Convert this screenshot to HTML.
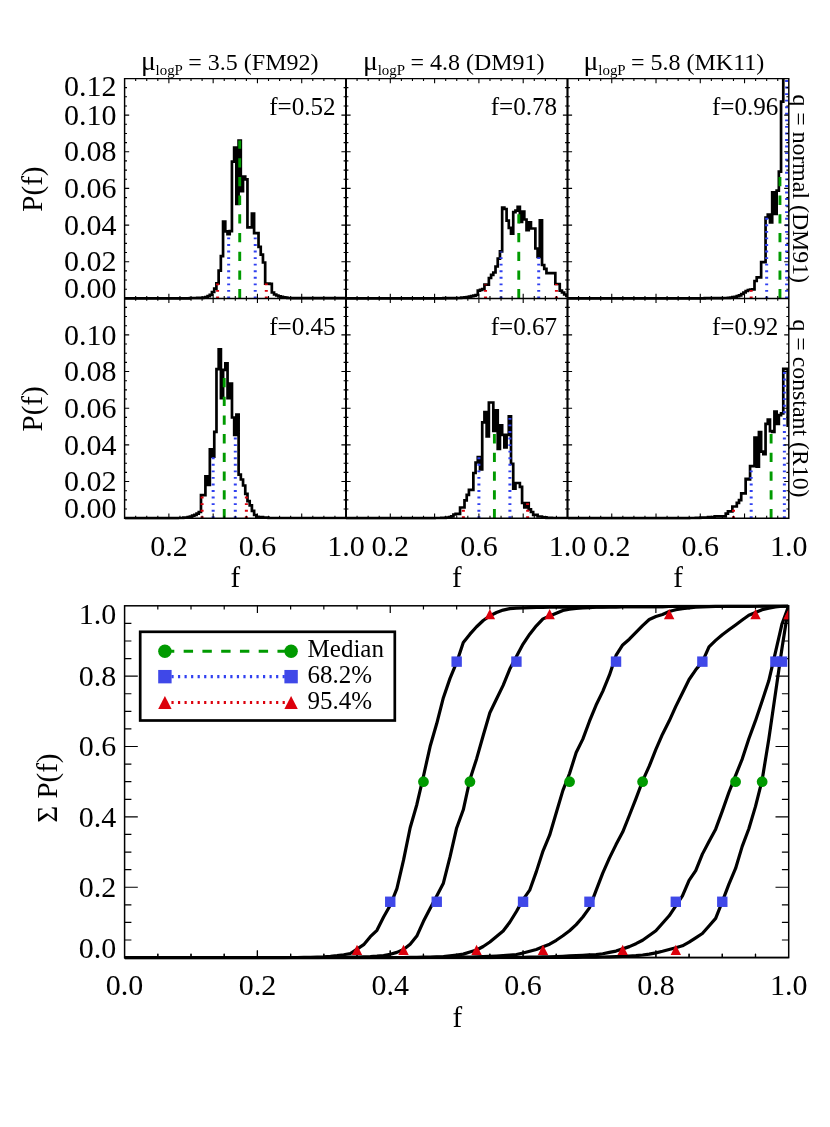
<!DOCTYPE html><html><head><meta charset="utf-8"><title>fig</title><style>
html,body{margin:0;padding:0;background:#fff}svg{display:block}text{font-family:"Liberation Serif",serif;fill:#000}svg{will-change:transform}
</style></head><body>
<svg width="830" height="1127" viewBox="0 0 830 1127">
<rect width="830" height="1127" fill="#fff"/>
<defs>
<clipPath id="cp00"><rect x="124.60" y="78.60" width="221.40" height="221.40"/></clipPath>
<clipPath id="cp01"><rect x="346.00" y="78.60" width="221.50" height="221.40"/></clipPath>
<clipPath id="cp02"><rect x="567.50" y="78.60" width="221.30" height="221.40"/></clipPath>
<clipPath id="cp10"><rect x="124.60" y="298.40" width="221.40" height="221.40"/></clipPath>
<clipPath id="cp11"><rect x="346.00" y="298.40" width="221.50" height="221.40"/></clipPath>
<clipPath id="cp12"><rect x="567.50" y="298.40" width="221.30" height="221.40"/></clipPath>
</defs>
<g clip-path="url(#cp00)">
<path d="M124.60,298.40H190.00V298.00H197.23V297.80H203.13V297.50H205.30V297.00H207.59V296.20H209.76V294.80H211.93V292.00H214.22V288.70H216.39V283.30H218.63V270.70H220.84V256.20H223.06V221.50H225.28V231.30H227.49V234.20H229.71V231.10H231.93V161.60H234.14V147.70H236.36V203.90H238.58V140.50H240.80V191.20H243.01V176.60H245.23V179.40H247.45V227.30H249.66V227.30H251.88V213.70H254.10V233.20H256.31V233.20H258.53V246.80H260.75V254.60H262.96V262.50H265.18V283.60H267.40V283.60H269.61V283.90H271.83V292.50H274.05V294.50H276.27V295.50H278.43V296.30H280.60V296.80H282.89V297.30H285.18V297.70H287.35V298.00H292.41V298.20H346.00" fill="none" stroke="#000" stroke-width="2.7" stroke-linejoin="miter"/>
<line x1="217.59" y1="298.40" x2="217.59" y2="283.30" stroke="#dc000c" stroke-width="3" stroke-dasharray="1.9 4.66"/>
<line x1="266.30" y1="298.40" x2="266.30" y2="283.60" stroke="#dc000c" stroke-width="3" stroke-dasharray="1.9 4.66"/>
<line x1="228.66" y1="298.40" x2="228.66" y2="234.20" stroke="#3040f0" stroke-width="3" stroke-dasharray="1.9 4.66"/>
<line x1="255.23" y1="298.40" x2="255.23" y2="233.20" stroke="#3040f0" stroke-width="3" stroke-dasharray="1.9 4.66"/>
<line x1="239.73" y1="298.40" x2="239.73" y2="140.50" stroke="#009a00" stroke-width="2.9" stroke-dasharray="9.3 9.4"/>
</g>
<g clip-path="url(#cp01)">
<path d="M346.00,298.40H443.46V298.20H452.32V298.10H456.75V298.00H461.18V297.70H464.50V297.30H466.72V297.00H468.93V296.60H471.15V296.20H473.36V295.70H475.58V295.00H477.79V290.60H480.01V289.80H482.22V289.00H484.44V284.60H486.65V284.60H488.87V278.00H491.08V274.90H493.30V272.50H495.51V266.50H497.73V258.70H499.94V251.40H502.16V207.50H504.37V209.00H506.59V220.70H508.80V227.90H511.02V233.70H513.23V212.20H515.45V210.60H517.66V206.80H519.88V221.80H522.09V211.50H524.31V219.50H526.52V230.10H528.74V222.30H530.95V228.50H533.17V228.50H535.38V248.50H537.60V257.00H539.81V220.30H542.03V265.00H544.24V268.90H546.46V273.10H548.67V273.10H550.89V273.10H553.10V273.10H555.32V284.00H557.53V284.00H559.75V290.60H561.96V292.50H564.18V294.50H566.39V296.00H567.50" fill="none" stroke="#000" stroke-width="2.7" stroke-linejoin="miter"/>
<line x1="485.54" y1="298.40" x2="485.54" y2="284.60" stroke="#dc000c" stroke-width="3" stroke-dasharray="1.9 4.66"/>
<line x1="556.42" y1="298.40" x2="556.42" y2="284.00" stroke="#dc000c" stroke-width="3" stroke-dasharray="1.9 4.66"/>
<line x1="501.05" y1="298.40" x2="501.05" y2="251.40" stroke="#3040f0" stroke-width="3" stroke-dasharray="1.9 4.66"/>
<line x1="538.71" y1="298.40" x2="538.71" y2="257.00" stroke="#3040f0" stroke-width="3" stroke-dasharray="1.9 4.66"/>
<line x1="518.77" y1="298.40" x2="518.77" y2="206.80" stroke="#009a00" stroke-width="2.9" stroke-dasharray="9.3 9.4"/>
</g>
<g clip-path="url(#cp02)">
<path d="M567.50,298.40H704.71V298.20H717.98V298.10H722.41V298.00H727.94V297.80H730.16V297.50H732.37V297.20H734.58V296.80H736.79V296.20H739.01V295.30H741.22V294.00H743.43V292.50H745.65V291.00H747.86V290.00H750.07V289.50H752.29V289.30H754.50V281.00H756.71V277.40H758.92V277.40H761.14V262.20H763.35V262.20H765.56V217.50H767.78V214.60H769.99V222.50H772.20V192.40H774.42V213.80H776.63V190.60H778.84V171.60H781.05V101.60H783.27V40.00H788.80" fill="none" stroke="#000" stroke-width="2.7" stroke-linejoin="miter"/>
<line x1="751.18" y1="298.40" x2="751.18" y2="289.50" stroke="#dc000c" stroke-width="3" stroke-dasharray="1.9 4.66"/>
<line x1="766.67" y1="298.40" x2="766.67" y2="217.50" stroke="#3040f0" stroke-width="3" stroke-dasharray="1.9 4.66"/>
<line x1="786.59" y1="298.40" x2="786.59" y2="78.60" stroke="#3040f0" stroke-width="3" stroke-dasharray="1.9 4.66"/>
<line x1="779.95" y1="298.40" x2="779.95" y2="171.60" stroke="#009a00" stroke-width="2.9" stroke-dasharray="9.3 9.4"/>
</g>
<g clip-path="url(#cp10)">
<path d="M124.60,518.20H177.74V518.00H183.27V517.60H187.70V517.20H189.91V516.60H192.13V515.60H194.34V514.80H196.56V513.60H198.77V512.00H200.98V495.10H203.20V495.10H205.41V476.40H207.62V485.00H209.84V449.30H212.05V456.70H214.27V431.90H216.48V369.20H218.69V349.30H220.91V398.20H223.12V369.80H225.34V363.40H227.55V398.20H229.76V383.60H231.98V417.50H234.19V435.00H236.41V414.60H238.62V474.60H240.84V479.50H243.05V485.50H245.26V493.90H247.48V501.10H249.69V505.40H251.90V510.80H254.12V515.00H256.33V516.80H258.55V517.20H262.98V517.60H268.51V518.00H346.00" fill="none" stroke="#000" stroke-width="2.7" stroke-linejoin="miter"/>
<line x1="202.09" y1="518.20" x2="202.09" y2="495.10" stroke="#dc000c" stroke-width="3" stroke-dasharray="1.9 4.66"/>
<line x1="246.37" y1="518.20" x2="246.37" y2="493.90" stroke="#dc000c" stroke-width="3" stroke-dasharray="1.9 4.66"/>
<line x1="213.16" y1="518.20" x2="213.16" y2="456.70" stroke="#3040f0" stroke-width="3" stroke-dasharray="1.9 4.66"/>
<line x1="235.30" y1="518.20" x2="235.30" y2="435.00" stroke="#3040f0" stroke-width="3" stroke-dasharray="1.9 4.66"/>
<line x1="224.23" y1="518.20" x2="224.23" y2="369.80" stroke="#009a00" stroke-width="2.9" stroke-dasharray="9.3 9.4"/>
</g>
<g clip-path="url(#cp11)">
<path d="M346.00,518.20H434.60V518.00H441.25V517.80H445.68V517.60H449.00V517.10H451.21V516.40H453.43V514.50H455.64V513.90H457.86V513.90H460.07V507.50H462.29V507.50H464.50V500.30H466.72V494.90H468.93V489.80H471.15V489.80H473.36V473.00H475.58V462.50H477.79V457.00H480.01V469.50H482.22V422.30H484.44V412.10H486.65V436.30H488.87V402.50H491.08V402.50H493.30V430.90H495.51V410.30H497.73V449.00H499.94V425.40H502.16V434.80H504.37V447.50H506.59V434.80H508.80V416.30H511.02V463.90H513.23V488.70H515.45V483.00H517.66V483.00H519.88V486.80H522.09V503.00H524.31V507.40H526.52V503.00H528.74V509.30H530.95V512.00H533.17V514.80H535.38V514.80H537.60V516.50H539.81V516.50H542.03V517.30H546.46V517.80H552.00V518.00H567.50" fill="none" stroke="#000" stroke-width="2.7" stroke-linejoin="miter"/>
<line x1="463.39" y1="518.20" x2="463.39" y2="507.50" stroke="#dc000c" stroke-width="3" stroke-dasharray="1.9 4.66"/>
<line x1="527.63" y1="518.20" x2="527.63" y2="503.00" stroke="#dc000c" stroke-width="3" stroke-dasharray="1.9 4.66"/>
<line x1="478.90" y1="518.20" x2="478.90" y2="457.00" stroke="#3040f0" stroke-width="3" stroke-dasharray="1.9 4.66"/>
<line x1="509.91" y1="518.20" x2="509.91" y2="416.30" stroke="#3040f0" stroke-width="3" stroke-dasharray="1.9 4.66"/>
<line x1="494.40" y1="518.20" x2="494.40" y2="430.90" stroke="#009a00" stroke-width="2.9" stroke-dasharray="9.3 9.4"/>
</g>
<g clip-path="url(#cp12)">
<path d="M567.50,518.20H689.22V518.00H695.85V517.80H700.28V517.70H708.03V517.10H714.66V516.40H725.73V513.70H727.94V511.30H730.16V511.30H732.37V506.50H734.58V506.50H736.79V502.90H739.01V500.20H741.22V493.30H743.43V493.30H745.65V478.80H747.86V479.50H750.07V466.20H752.29V466.20H754.50V437.50H756.71V466.70H758.92V432.10H761.14V451.60H763.35V454.20H765.56V423.90H767.78V419.60H769.99V431.20H772.20V432.00H774.42V411.50H776.63V423.80H778.84V415.20H781.05V413.30H783.27V368.80H787.69V424.60H788.80" fill="none" stroke="#000" stroke-width="2.7" stroke-linejoin="miter"/>
<line x1="733.48" y1="518.20" x2="733.48" y2="506.50" stroke="#dc000c" stroke-width="3" stroke-dasharray="1.9 4.66"/>
<line x1="751.18" y1="518.20" x2="751.18" y2="466.20" stroke="#3040f0" stroke-width="3" stroke-dasharray="1.9 4.66"/>
<line x1="784.37" y1="518.20" x2="784.37" y2="368.80" stroke="#3040f0" stroke-width="3" stroke-dasharray="1.9 4.66"/>
<line x1="771.10" y1="518.20" x2="771.10" y2="431.20" stroke="#009a00" stroke-width="2.9" stroke-dasharray="9.3 9.4"/>
</g>
<path d="M135.67,78.60v2.4M135.67,298.40v-2.4M146.74,78.60v2.4M146.74,298.40v-2.4M157.81,78.60v2.4M157.81,298.40v-2.4M168.88,78.60v4.6M168.88,298.40v-4.6M179.95,78.60v2.4M179.95,298.40v-2.4M191.02,78.60v2.4M191.02,298.40v-2.4M202.09,78.60v2.4M202.09,298.40v-2.4M213.16,78.60v4.6M213.16,298.40v-4.6M224.23,78.60v2.4M224.23,298.40v-2.4M235.30,78.60v2.4M235.30,298.40v-2.4M246.37,78.60v2.4M246.37,298.40v-2.4M257.44,78.60v4.6M257.44,298.40v-4.6M268.51,78.60v2.4M268.51,298.40v-2.4M279.58,78.60v2.4M279.58,298.40v-2.4M290.65,78.60v2.4M290.65,298.40v-2.4M301.72,78.60v4.6M301.72,298.40v-4.6M312.79,78.60v2.4M312.79,298.40v-2.4M323.86,78.60v2.4M323.86,298.40v-2.4M334.93,78.60v2.4M334.93,298.40v-2.4M357.07,78.60v2.4M357.07,298.40v-2.4M368.15,78.60v2.4M368.15,298.40v-2.4M379.23,78.60v2.4M379.23,298.40v-2.4M390.30,78.60v4.6M390.30,298.40v-4.6M401.38,78.60v2.4M401.38,298.40v-2.4M412.45,78.60v2.4M412.45,298.40v-2.4M423.52,78.60v2.4M423.52,298.40v-2.4M434.60,78.60v4.6M434.60,298.40v-4.6M445.68,78.60v2.4M445.68,298.40v-2.4M456.75,78.60v2.4M456.75,298.40v-2.4M467.82,78.60v2.4M467.82,298.40v-2.4M478.90,78.60v4.6M478.90,298.40v-4.6M489.98,78.60v2.4M489.98,298.40v-2.4M501.05,78.60v2.4M501.05,298.40v-2.4M512.12,78.60v2.4M512.12,298.40v-2.4M523.20,78.60v4.6M523.20,298.40v-4.6M534.27,78.60v2.4M534.27,298.40v-2.4M545.35,78.60v2.4M545.35,298.40v-2.4M556.42,78.60v2.4M556.42,298.40v-2.4M578.57,78.60v2.4M578.57,298.40v-2.4M589.63,78.60v2.4M589.63,298.40v-2.4M600.70,78.60v2.4M600.70,298.40v-2.4M611.76,78.60v4.6M611.76,298.40v-4.6M622.83,78.60v2.4M622.83,298.40v-2.4M633.89,78.60v2.4M633.89,298.40v-2.4M644.96,78.60v2.4M644.96,298.40v-2.4M656.02,78.60v4.6M656.02,298.40v-4.6M667.09,78.60v2.4M667.09,298.40v-2.4M678.15,78.60v2.4M678.15,298.40v-2.4M689.22,78.60v2.4M689.22,298.40v-2.4M700.28,78.60v4.6M700.28,298.40v-4.6M711.35,78.60v2.4M711.35,298.40v-2.4M722.41,78.60v2.4M722.41,298.40v-2.4M733.48,78.60v2.4M733.48,298.40v-2.4M744.54,78.60v4.6M744.54,298.40v-4.6M755.61,78.60v2.4M755.61,298.40v-2.4M766.67,78.60v2.4M766.67,298.40v-2.4M777.74,78.60v2.4M777.74,298.40v-2.4M124.60,289.23h2.4M124.60,280.07h2.4M124.60,270.90h2.4M124.60,261.74h4.6M124.60,252.57h2.4M124.60,243.41h2.4M124.60,234.24h2.4M124.60,225.08h4.6M124.60,215.91h2.4M124.60,206.75h2.4M124.60,197.58h2.4M124.60,188.42h4.6M124.60,179.25h2.4M124.60,170.09h2.4M124.60,160.92h2.4M124.60,151.76h4.6M124.60,142.59h2.4M124.60,133.43h2.4M124.60,124.26h2.4M124.60,115.10h4.6M124.60,105.93h2.4M124.60,96.77h2.4M124.60,87.60h2.4M346.00,289.23h2.4M346.00,289.23h-2.4M346.00,280.07h2.4M346.00,280.07h-2.4M346.00,270.90h2.4M346.00,270.90h-2.4M346.00,261.74h4.6M346.00,261.74h-4.6M346.00,252.57h2.4M346.00,252.57h-2.4M346.00,243.41h2.4M346.00,243.41h-2.4M346.00,234.24h2.4M346.00,234.24h-2.4M346.00,225.08h4.6M346.00,225.08h-4.6M346.00,215.91h2.4M346.00,215.91h-2.4M346.00,206.75h2.4M346.00,206.75h-2.4M346.00,197.58h2.4M346.00,197.58h-2.4M346.00,188.42h4.6M346.00,188.42h-4.6M346.00,179.25h2.4M346.00,179.25h-2.4M346.00,170.09h2.4M346.00,170.09h-2.4M346.00,160.92h2.4M346.00,160.92h-2.4M346.00,151.76h4.6M346.00,151.76h-4.6M346.00,142.59h2.4M346.00,142.59h-2.4M346.00,133.43h2.4M346.00,133.43h-2.4M346.00,124.26h2.4M346.00,124.26h-2.4M346.00,115.10h4.6M346.00,115.10h-4.6M346.00,105.93h2.4M346.00,105.93h-2.4M346.00,96.77h2.4M346.00,96.77h-2.4M346.00,87.60h2.4M346.00,87.60h-2.4M567.50,289.23h2.4M567.50,289.23h-2.4M567.50,280.07h2.4M567.50,280.07h-2.4M567.50,270.90h2.4M567.50,270.90h-2.4M567.50,261.74h4.6M567.50,261.74h-4.6M567.50,252.57h2.4M567.50,252.57h-2.4M567.50,243.41h2.4M567.50,243.41h-2.4M567.50,234.24h2.4M567.50,234.24h-2.4M567.50,225.08h4.6M567.50,225.08h-4.6M567.50,215.91h2.4M567.50,215.91h-2.4M567.50,206.75h2.4M567.50,206.75h-2.4M567.50,197.58h2.4M567.50,197.58h-2.4M567.50,188.42h4.6M567.50,188.42h-4.6M567.50,179.25h2.4M567.50,179.25h-2.4M567.50,170.09h2.4M567.50,170.09h-2.4M567.50,160.92h2.4M567.50,160.92h-2.4M567.50,151.76h4.6M567.50,151.76h-4.6M567.50,142.59h2.4M567.50,142.59h-2.4M567.50,133.43h2.4M567.50,133.43h-2.4M567.50,124.26h2.4M567.50,124.26h-2.4M567.50,115.10h4.6M567.50,115.10h-4.6M567.50,105.93h2.4M567.50,105.93h-2.4M567.50,96.77h2.4M567.50,96.77h-2.4M567.50,87.60h2.4M567.50,87.60h-2.4M788.80,289.23h-2.4M788.80,280.07h-2.4M788.80,270.90h-2.4M788.80,261.74h-4.6M788.80,252.57h-2.4M788.80,243.41h-2.4M788.80,234.24h-2.4M788.80,225.08h-4.6M788.80,215.91h-2.4M788.80,206.75h-2.4M788.80,197.58h-2.4M788.80,188.42h-4.6M788.80,179.25h-2.4M788.80,170.09h-2.4M788.80,160.92h-2.4M788.80,151.76h-4.6M788.80,142.59h-2.4M788.80,133.43h-2.4M788.80,124.26h-2.4M788.80,115.10h-4.6M788.80,105.93h-2.4M788.80,96.77h-2.4M788.80,87.60h-2.4M135.67,298.40v2.4M135.67,518.20v-2.4M146.74,298.40v2.4M146.74,518.20v-2.4M157.81,298.40v2.4M157.81,518.20v-2.4M168.88,298.40v4.6M168.88,518.20v-4.6M179.95,298.40v2.4M179.95,518.20v-2.4M191.02,298.40v2.4M191.02,518.20v-2.4M202.09,298.40v2.4M202.09,518.20v-2.4M213.16,298.40v4.6M213.16,518.20v-4.6M224.23,298.40v2.4M224.23,518.20v-2.4M235.30,298.40v2.4M235.30,518.20v-2.4M246.37,298.40v2.4M246.37,518.20v-2.4M257.44,298.40v4.6M257.44,518.20v-4.6M268.51,298.40v2.4M268.51,518.20v-2.4M279.58,298.40v2.4M279.58,518.20v-2.4M290.65,298.40v2.4M290.65,518.20v-2.4M301.72,298.40v4.6M301.72,518.20v-4.6M312.79,298.40v2.4M312.79,518.20v-2.4M323.86,298.40v2.4M323.86,518.20v-2.4M334.93,298.40v2.4M334.93,518.20v-2.4M357.07,298.40v2.4M357.07,518.20v-2.4M368.15,298.40v2.4M368.15,518.20v-2.4M379.23,298.40v2.4M379.23,518.20v-2.4M390.30,298.40v4.6M390.30,518.20v-4.6M401.38,298.40v2.4M401.38,518.20v-2.4M412.45,298.40v2.4M412.45,518.20v-2.4M423.52,298.40v2.4M423.52,518.20v-2.4M434.60,298.40v4.6M434.60,518.20v-4.6M445.68,298.40v2.4M445.68,518.20v-2.4M456.75,298.40v2.4M456.75,518.20v-2.4M467.82,298.40v2.4M467.82,518.20v-2.4M478.90,298.40v4.6M478.90,518.20v-4.6M489.98,298.40v2.4M489.98,518.20v-2.4M501.05,298.40v2.4M501.05,518.20v-2.4M512.12,298.40v2.4M512.12,518.20v-2.4M523.20,298.40v4.6M523.20,518.20v-4.6M534.27,298.40v2.4M534.27,518.20v-2.4M545.35,298.40v2.4M545.35,518.20v-2.4M556.42,298.40v2.4M556.42,518.20v-2.4M578.57,298.40v2.4M578.57,518.20v-2.4M589.63,298.40v2.4M589.63,518.20v-2.4M600.70,298.40v2.4M600.70,518.20v-2.4M611.76,298.40v4.6M611.76,518.20v-4.6M622.83,298.40v2.4M622.83,518.20v-2.4M633.89,298.40v2.4M633.89,518.20v-2.4M644.96,298.40v2.4M644.96,518.20v-2.4M656.02,298.40v4.6M656.02,518.20v-4.6M667.09,298.40v2.4M667.09,518.20v-2.4M678.15,298.40v2.4M678.15,518.20v-2.4M689.22,298.40v2.4M689.22,518.20v-2.4M700.28,298.40v4.6M700.28,518.20v-4.6M711.35,298.40v2.4M711.35,518.20v-2.4M722.41,298.40v2.4M722.41,518.20v-2.4M733.48,298.40v2.4M733.48,518.20v-2.4M744.54,298.40v4.6M744.54,518.20v-4.6M755.61,298.40v2.4M755.61,518.20v-2.4M766.67,298.40v2.4M766.67,518.20v-2.4M777.74,298.40v2.4M777.74,518.20v-2.4M124.60,509.04h2.4M124.60,499.87h2.4M124.60,490.71h2.4M124.60,481.54h4.6M124.60,472.38h2.4M124.60,463.21h2.4M124.60,454.05h2.4M124.60,444.88h4.6M124.60,435.72h2.4M124.60,426.55h2.4M124.60,417.39h2.4M124.60,408.22h4.6M124.60,399.06h2.4M124.60,389.89h2.4M124.60,380.73h2.4M124.60,371.56h4.6M124.60,362.40h2.4M124.60,353.23h2.4M124.60,344.07h2.4M124.60,334.90h4.6M124.60,325.74h2.4M124.60,316.57h2.4M124.60,307.41h2.4M346.00,509.04h2.4M346.00,509.04h-2.4M346.00,499.87h2.4M346.00,499.87h-2.4M346.00,490.71h2.4M346.00,490.71h-2.4M346.00,481.54h4.6M346.00,481.54h-4.6M346.00,472.38h2.4M346.00,472.38h-2.4M346.00,463.21h2.4M346.00,463.21h-2.4M346.00,454.05h2.4M346.00,454.05h-2.4M346.00,444.88h4.6M346.00,444.88h-4.6M346.00,435.72h2.4M346.00,435.72h-2.4M346.00,426.55h2.4M346.00,426.55h-2.4M346.00,417.39h2.4M346.00,417.39h-2.4M346.00,408.22h4.6M346.00,408.22h-4.6M346.00,399.06h2.4M346.00,399.06h-2.4M346.00,389.89h2.4M346.00,389.89h-2.4M346.00,380.73h2.4M346.00,380.73h-2.4M346.00,371.56h4.6M346.00,371.56h-4.6M346.00,362.40h2.4M346.00,362.40h-2.4M346.00,353.23h2.4M346.00,353.23h-2.4M346.00,344.07h2.4M346.00,344.07h-2.4M346.00,334.90h4.6M346.00,334.90h-4.6M346.00,325.74h2.4M346.00,325.74h-2.4M346.00,316.57h2.4M346.00,316.57h-2.4M346.00,307.41h2.4M346.00,307.41h-2.4M567.50,509.04h2.4M567.50,509.04h-2.4M567.50,499.87h2.4M567.50,499.87h-2.4M567.50,490.71h2.4M567.50,490.71h-2.4M567.50,481.54h4.6M567.50,481.54h-4.6M567.50,472.38h2.4M567.50,472.38h-2.4M567.50,463.21h2.4M567.50,463.21h-2.4M567.50,454.05h2.4M567.50,454.05h-2.4M567.50,444.88h4.6M567.50,444.88h-4.6M567.50,435.72h2.4M567.50,435.72h-2.4M567.50,426.55h2.4M567.50,426.55h-2.4M567.50,417.39h2.4M567.50,417.39h-2.4M567.50,408.22h4.6M567.50,408.22h-4.6M567.50,399.06h2.4M567.50,399.06h-2.4M567.50,389.89h2.4M567.50,389.89h-2.4M567.50,380.73h2.4M567.50,380.73h-2.4M567.50,371.56h4.6M567.50,371.56h-4.6M567.50,362.40h2.4M567.50,362.40h-2.4M567.50,353.23h2.4M567.50,353.23h-2.4M567.50,344.07h2.4M567.50,344.07h-2.4M567.50,334.90h4.6M567.50,334.90h-4.6M567.50,325.74h2.4M567.50,325.74h-2.4M567.50,316.57h2.4M567.50,316.57h-2.4M567.50,307.41h2.4M567.50,307.41h-2.4M788.80,509.04h-2.4M788.80,499.87h-2.4M788.80,490.71h-2.4M788.80,481.54h-4.6M788.80,472.38h-2.4M788.80,463.21h-2.4M788.80,454.05h-2.4M788.80,444.88h-4.6M788.80,435.72h-2.4M788.80,426.55h-2.4M788.80,417.39h-2.4M788.80,408.22h-4.6M788.80,399.06h-2.4M788.80,389.89h-2.4M788.80,380.73h-2.4M788.80,371.56h-4.6M788.80,362.40h-2.4M788.80,353.23h-2.4M788.80,344.07h-2.4M788.80,334.90h-4.6M788.80,325.74h-2.4M788.80,316.57h-2.4M788.80,307.41h-2.4" stroke="#000" stroke-width="1.1" fill="none"/>
<path d="M124.60,78.60H788.80M124.60,298.40H788.80M124.60,518.20H788.80M124.60,78.60V518.20M346.00,78.60V518.20M567.50,78.60V518.20M788.80,78.60V518.20" stroke="#000" stroke-width="1.45" fill="none" stroke-linecap="square"/>
<path d="M346.00,78.60V518.20M567.50,78.60V518.20" stroke="#000" stroke-width="1.9" fill="none"/>
<text x="116.40" y="298.20" font-size="30" text-anchor="end" >0.00</text>
<text x="116.40" y="271.44" font-size="30" text-anchor="end" >0.02</text>
<text x="116.40" y="234.78" font-size="30" text-anchor="end" >0.04</text>
<text x="116.40" y="198.12" font-size="30" text-anchor="end" >0.06</text>
<text x="116.40" y="161.46" font-size="30" text-anchor="end" >0.08</text>
<text x="116.40" y="124.80" font-size="30" text-anchor="end" >0.10</text>
<text x="116.40" y="95.60" font-size="30" text-anchor="end" >0.12</text>
<text x="116.40" y="518.00" font-size="30" text-anchor="end" >0.00</text>
<text x="116.40" y="491.24" font-size="30" text-anchor="end" >0.02</text>
<text x="116.40" y="454.58" font-size="30" text-anchor="end" >0.04</text>
<text x="116.40" y="417.92" font-size="30" text-anchor="end" >0.06</text>
<text x="116.40" y="381.26" font-size="30" text-anchor="end" >0.08</text>
<text x="116.40" y="344.60" font-size="30" text-anchor="end" >0.10</text>
<text x="168.88" y="555.50" font-size="30" text-anchor="middle" >0.2</text>
<text x="257.44" y="555.50" font-size="30" text-anchor="middle" >0.6</text>
<text x="346.00" y="555.50" font-size="30" text-anchor="middle" >1.0</text>
<text x="235.30" y="586.60" font-size="29" text-anchor="middle" >f</text>
<text x="390.30" y="555.50" font-size="30" text-anchor="middle" >0.2</text>
<text x="478.90" y="555.50" font-size="30" text-anchor="middle" >0.6</text>
<text x="567.50" y="555.50" font-size="30" text-anchor="middle" >1.0</text>
<text x="456.75" y="586.60" font-size="29" text-anchor="middle" >f</text>
<text x="611.76" y="555.50" font-size="30" text-anchor="middle" >0.2</text>
<text x="700.28" y="555.50" font-size="30" text-anchor="middle" >0.6</text>
<text x="788.80" y="555.50" font-size="30" text-anchor="middle" >1.0</text>
<text x="678.15" y="586.60" font-size="29" text-anchor="middle" >f</text>
<text x="140.90" y="70.3" font-size="27.6">μ</text>
<text x="155.60" y="74.6" font-size="14.9">logP</text>
<text x="188.30" y="70.3" font-size="24">= 3.5 (FM92)</text>
<text x="363.00" y="70.3" font-size="27.6">μ</text>
<text x="377.70" y="74.6" font-size="14.9">logP</text>
<text x="410.40" y="70.3" font-size="24">= 4.8 (DM91)</text>
<text x="583.60" y="70.3" font-size="27.6">μ</text>
<text x="598.30" y="74.6" font-size="14.9">logP</text>
<text x="631.00" y="70.3" font-size="24">= 5.8 (MK11)</text>
<text x="335.60" y="115.00" font-size="25.1" text-anchor="end" >f=0.52</text>
<text x="557.10" y="115.00" font-size="25.1" text-anchor="end" >f=0.78</text>
<text x="778.40" y="115.00" font-size="25.1" text-anchor="end" >f=0.96</text>
<text x="335.60" y="334.80" font-size="25.1" text-anchor="end" >f=0.45</text>
<text x="557.10" y="334.80" font-size="25.1" text-anchor="end" >f=0.67</text>
<text x="778.40" y="334.80" font-size="25.1" text-anchor="end" >f=0.92</text>
<text transform="translate(41.8,189.10) rotate(-90) scale(1,1.04)" font-size="29" text-anchor="middle">P(f)</text>
<text transform="translate(41.8,408.90) rotate(-90) scale(1,1.04)" font-size="29" text-anchor="middle">P(f)</text>
<text transform="translate(793,188.70) rotate(90)" font-size="23.8" text-anchor="middle">q = normal (DM91)</text>
<text transform="translate(793,408.50) rotate(90)" font-size="23.8" text-anchor="middle">q = constant (R10)</text>
<rect x="124.60" y="605.80" width="664.10" height="351.80" fill="none" stroke="#000" stroke-width="1.5"/>
<line x1="124.60" y1="957.60" x2="788.70" y2="957.60" stroke="#000" stroke-width="1.5"/>
<path d="M157.81,957.60v-3.8M157.81,605.80v3.8M124.60,940.01h6.8M788.70,940.01h-6.8M191.01,957.60v-3.8M191.01,605.80v3.8M124.60,922.42h6.8M788.70,922.42h-6.8M224.22,957.60v-3.8M224.22,605.80v3.8M124.60,904.83h6.8M788.70,904.83h-6.8M257.42,957.60v-7.2M257.42,605.80v7.2M124.60,887.24h13.2M788.70,887.24h-13.2M290.62,957.60v-3.8M290.62,605.80v3.8M124.60,869.65h6.8M788.70,869.65h-6.8M323.83,957.60v-3.8M323.83,605.80v3.8M124.60,852.06h6.8M788.70,852.06h-6.8M357.04,957.60v-3.8M357.04,605.80v3.8M124.60,834.47h6.8M788.70,834.47h-6.8M390.24,957.60v-7.2M390.24,605.80v7.2M124.60,816.88h13.2M788.70,816.88h-13.2M423.45,957.60v-3.8M423.45,605.80v3.8M124.60,799.29h6.8M788.70,799.29h-6.8M456.65,957.60v-3.8M456.65,605.80v3.8M124.60,781.70h6.8M788.70,781.70h-6.8M489.86,957.60v-3.8M489.86,605.80v3.8M124.60,764.11h6.8M788.70,764.11h-6.8M523.06,957.60v-7.2M523.06,605.80v7.2M124.60,746.52h13.2M788.70,746.52h-13.2M556.26,957.60v-3.8M556.26,605.80v3.8M124.60,728.93h6.8M788.70,728.93h-6.8M589.47,957.60v-3.8M589.47,605.80v3.8M124.60,711.34h6.8M788.70,711.34h-6.8M622.68,957.60v-3.8M622.68,605.80v3.8M124.60,693.75h6.8M788.70,693.75h-6.8M655.88,957.60v-7.2M655.88,605.80v7.2M124.60,676.16h13.2M788.70,676.16h-13.2M689.09,957.60v-3.8M689.09,605.80v3.8M124.60,658.57h6.8M788.70,658.57h-6.8M722.29,957.60v-3.8M722.29,605.80v3.8M124.60,640.98h6.8M788.70,640.98h-6.8M755.50,957.60v-3.8M755.50,605.80v3.8M124.60,623.39h6.8M788.70,623.39h-6.8" stroke="#000" stroke-width="1.2" fill="none"/>
<defs><clipPath id="cpb"><rect x="124.60" y="604.70" width="663.60" height="354.60"/></clipPath></defs>
<g clip-path="url(#cpb)">
<path d="M124.60,957.60 L131.24,957.60 L137.88,957.60 L144.52,957.60 L151.16,957.60 L157.81,957.60 L164.45,957.60 L171.09,957.60 L177.73,957.60 L184.37,957.60 L191.01,957.60 L197.65,957.60 L204.29,957.60 L210.93,957.60 L217.57,957.60 L224.21,957.60 L230.86,957.60 L237.50,957.60 L244.14,957.60 L250.78,957.60 L257.42,957.60 L264.06,957.60 L270.70,957.60 L277.34,957.60 L283.98,957.60 L290.62,957.60 L297.27,957.60 L303.91,957.60 L310.55,957.60 L317.19,957.60 L323.83,957.52 L330.47,957.45 L337.11,957.37 L343.75,957.25 L350.39,957.14 L357.04,957.02 L363.68,956.85 L370.32,956.58 L376.96,956.16 L383.60,955.47 L390.24,954.24 L396.88,952.38 L403.52,949.48 L410.16,944.16 L416.80,936.06 L423.45,921.29 L430.09,908.41 L436.73,896.08 L443.37,883.16 L450.01,856.90 L456.65,827.96 L463.29,809.82 L469.93,779.50 L476.57,758.92 L483.21,735.53 L489.86,712.69 L496.50,699.03 L503.14,685.38 L509.78,669.12 L516.42,656.60 L523.06,644.08 L529.70,634.18 L536.34,625.77 L542.98,618.88 L549.62,616.03 L556.26,613.19 L562.91,610.41 L569.55,609.28 L576.19,608.53 L582.83,607.97 L589.47,607.57 L596.11,607.26 L602.75,607.05 L609.39,606.91 L616.03,606.84 L622.68,606.76 L629.32,606.72 L635.96,606.68 L642.60,606.64 L649.24,606.61 L655.88,606.57 L662.52,606.53 L669.16,606.49 L675.80,606.45 L682.44,606.41 L689.09,606.38 L695.73,606.34 L702.37,606.30 L709.01,606.26 L715.65,606.22 L722.29,606.18 L728.93,606.15 L735.57,606.11 L742.21,606.07 L748.85,606.03 L755.50,605.99 L762.14,605.95 L768.78,605.92 L775.42,605.88 L782.06,605.84 L788.70,605.80" fill="none" stroke="#000" stroke-width="3.2" stroke-linejoin="round"/>
<path d="M124.60,957.60 L131.24,957.60 L137.88,957.60 L144.52,957.60 L151.16,957.60 L157.81,957.60 L164.45,957.60 L171.09,957.60 L177.73,957.60 L184.37,957.60 L191.01,957.60 L197.65,957.60 L204.29,957.60 L210.93,957.60 L217.57,957.60 L224.21,957.60 L230.86,957.60 L237.50,957.60 L244.14,957.60 L250.78,957.60 L257.42,957.60 L264.06,957.60 L270.70,957.60 L277.34,957.60 L283.98,957.60 L290.62,957.60 L297.27,957.60 L303.91,957.60 L310.55,957.60 L317.19,957.60 L323.83,957.60 L330.47,957.60 L337.11,957.60 L343.75,957.60 L350.39,957.60 L357.04,957.60 L363.68,957.60 L370.32,957.60 L376.96,957.60 L383.60,957.60 L390.24,957.60 L396.88,957.60 L403.52,957.60 L410.16,957.60 L416.80,957.56 L423.45,957.52 L430.09,957.48 L436.73,957.45 L443.37,957.39 L450.01,957.33 L456.65,957.25 L463.29,957.18 L469.93,957.04 L476.57,956.91 L483.21,956.69 L489.86,956.42 L496.50,956.08 L503.14,955.65 L509.78,955.13 L516.42,954.48 L523.06,952.98 L529.70,951.32 L536.34,949.51 L542.98,946.85 L549.62,944.19 L556.26,940.26 L562.91,935.73 L569.55,930.74 L576.19,924.59 L582.83,916.94 L589.47,907.89 L596.11,890.37 L602.75,873.14 L609.39,858.17 L616.03,844.59 L622.68,832.12 L629.32,815.51 L635.96,798.59 L642.60,780.94 L649.24,766.18 L655.88,749.43 L662.52,734.23 L669.16,721.07 L675.80,706.41 L682.44,692.94 L689.09,679.47 L695.73,669.85 L702.37,661.87 L709.01,646.82 L715.65,640.39 L722.29,634.70 L728.93,629.83 L735.57,624.95 L742.21,620.08 L748.85,615.20 L755.50,612.43 L762.14,609.65 L768.78,608.15 L775.42,607.01 L782.06,606.26 L788.70,605.80" fill="none" stroke="#000" stroke-width="3.2" stroke-linejoin="round"/>
<path d="M124.60,957.60 L131.24,957.60 L137.88,957.60 L144.52,957.60 L151.16,957.60 L157.81,957.60 L164.45,957.60 L171.09,957.60 L177.73,957.60 L184.37,957.60 L191.01,957.60 L197.65,957.60 L204.29,957.60 L210.93,957.60 L217.57,957.60 L224.21,957.60 L230.86,957.60 L237.50,957.60 L244.14,957.60 L250.78,957.60 L257.42,957.60 L264.06,957.60 L270.70,957.60 L277.34,957.60 L283.98,957.60 L290.62,957.60 L297.27,957.60 L303.91,957.60 L310.55,957.60 L317.19,957.60 L323.83,957.60 L330.47,957.60 L337.11,957.60 L343.75,957.60 L350.39,957.60 L357.04,957.60 L363.68,957.60 L370.32,957.60 L376.96,957.60 L383.60,957.60 L390.24,957.60 L396.88,957.60 L403.52,957.60 L410.16,957.60 L416.80,957.60 L423.45,957.60 L430.09,957.60 L436.73,957.60 L443.37,957.60 L450.01,957.60 L456.65,957.60 L463.29,957.60 L469.93,957.60 L476.57,957.60 L483.21,957.60 L489.86,957.60 L496.50,957.60 L503.14,957.60 L509.78,957.60 L516.42,957.60 L523.06,957.60 L529.70,957.60 L536.34,957.56 L542.98,957.52 L549.62,957.48 L556.26,957.43 L562.91,957.39 L569.55,957.35 L576.19,957.29 L582.83,957.23 L589.47,957.14 L596.11,957.06 L602.75,956.98 L609.39,956.85 L616.03,956.66 L622.68,956.42 L629.32,956.08 L635.96,955.63 L642.60,954.98 L649.24,954.07 L655.88,952.84 L662.52,951.30 L669.16,949.56 L675.80,947.71 L682.44,945.82 L689.09,942.20 L695.73,937.83 L702.37,933.47 L709.01,925.95 L715.65,918.42 L722.29,901.61 L728.93,884.19 L735.57,868.42 L742.21,846.38 L748.85,828.80 L755.50,806.40 L762.14,780.04 L768.78,739.14 L775.42,693.42 L782.06,647.71 L788.70,605.80" fill="none" stroke="#000" stroke-width="3.2" stroke-linejoin="round"/>
<path d="M124.60,957.60 L131.24,957.60 L137.88,957.60 L144.52,957.60 L151.16,957.60 L157.81,957.60 L164.45,957.60 L171.09,957.60 L177.73,957.60 L184.37,957.60 L191.01,957.60 L197.65,957.60 L204.29,957.60 L210.93,957.60 L217.57,957.60 L224.21,957.60 L230.86,957.60 L237.50,957.60 L244.14,957.60 L250.78,957.60 L257.42,957.60 L264.06,957.60 L270.70,957.60 L277.34,957.60 L283.98,957.56 L290.62,957.52 L297.27,957.48 L303.91,957.37 L310.55,957.25 L317.19,957.06 L323.83,956.76 L330.47,956.26 L337.11,955.60 L343.75,954.72 L350.39,953.53 L357.04,949.10 L363.68,944.67 L370.32,936.65 L376.96,930.28 L383.60,917.07 L390.24,905.27 L396.88,888.71 L403.52,860.13 L410.16,827.73 L416.80,804.71 L423.45,776.24 L430.09,746.55 L436.73,723.53 L443.37,697.71 L450.01,678.39 L456.65,662.43 L463.29,642.55 L469.93,634.19 L476.57,626.77 L483.21,620.49 L489.86,615.83 L496.50,612.55 L503.14,610.10 L509.78,608.68 L516.42,608.06 L523.06,607.80 L529.70,607.60 L536.34,607.41 L542.98,607.30 L549.62,607.18 L556.26,607.14 L562.91,607.10 L569.55,607.07 L576.19,607.03 L582.83,606.99 L589.47,606.95 L596.11,606.91 L602.75,606.87 L609.39,606.84 L616.03,606.80 L622.68,606.76 L629.32,606.72 L635.96,606.68 L642.60,606.64 L649.24,606.61 L655.88,606.57 L662.52,606.53 L669.16,606.49 L675.80,606.45 L682.44,606.41 L689.09,606.38 L695.73,606.34 L702.37,606.30 L709.01,606.26 L715.65,606.22 L722.29,606.18 L728.93,606.15 L735.57,606.11 L742.21,606.07 L748.85,606.03 L755.50,605.99 L762.14,605.95 L768.78,605.92 L775.42,605.88 L782.06,605.84 L788.70,605.80" fill="none" stroke="#000" stroke-width="3.2" stroke-linejoin="round"/>
<path d="M124.60,957.60 L131.24,957.60 L137.88,957.60 L144.52,957.60 L151.16,957.60 L157.81,957.60 L164.45,957.60 L171.09,957.60 L177.73,957.60 L184.37,957.60 L191.01,957.60 L197.65,957.60 L204.29,957.60 L210.93,957.60 L217.57,957.60 L224.21,957.60 L230.86,957.60 L237.50,957.60 L244.14,957.60 L250.78,957.60 L257.42,957.60 L264.06,957.60 L270.70,957.60 L277.34,957.60 L283.98,957.60 L290.62,957.60 L297.27,957.60 L303.91,957.60 L310.55,957.60 L317.19,957.60 L323.83,957.60 L330.47,957.60 L337.11,957.60 L343.75,957.60 L350.39,957.60 L357.04,957.60 L363.68,957.60 L370.32,957.60 L376.96,957.60 L383.60,957.60 L390.24,957.56 L396.88,957.52 L403.52,957.48 L410.16,957.41 L416.80,957.33 L423.45,957.21 L430.09,957.10 L436.73,956.88 L443.37,956.53 L450.01,955.82 L456.65,954.99 L463.29,954.15 L469.93,952.08 L476.57,950.01 L483.21,946.54 L489.86,942.03 L496.50,936.53 L503.14,931.02 L509.78,922.27 L516.42,911.48 L523.06,899.63 L529.70,890.19 L536.34,871.62 L542.98,851.06 L549.62,835.20 L556.26,812.79 L562.91,790.38 L569.55,773.47 L576.19,752.57 L582.83,739.16 L589.47,721.19 L596.11,705.03 L602.75,691.34 L609.39,675.18 L616.03,655.45 L622.68,644.93 L629.32,639.21 L635.96,632.40 L642.60,625.58 L649.24,619.49 L655.88,616.55 L662.52,614.46 L669.16,611.51 L675.80,609.79 L682.44,608.59 L689.09,607.93 L695.73,607.27 L702.37,606.94 L709.01,606.61 L715.65,606.44 L722.29,606.26 L728.93,606.19 L735.57,606.11 L742.21,606.07 L748.85,606.03 L755.50,605.99 L762.14,605.95 L768.78,605.92 L775.42,605.88 L782.06,605.84 L788.70,605.80" fill="none" stroke="#000" stroke-width="3.2" stroke-linejoin="round"/>
<path d="M124.60,957.60 L131.24,957.60 L137.88,957.60 L144.52,957.60 L151.16,957.60 L157.81,957.60 L164.45,957.60 L171.09,957.60 L177.73,957.60 L184.37,957.60 L191.01,957.60 L197.65,957.60 L204.29,957.60 L210.93,957.60 L217.57,957.60 L224.21,957.60 L230.86,957.60 L237.50,957.60 L244.14,957.60 L250.78,957.60 L257.42,957.60 L264.06,957.60 L270.70,957.60 L277.34,957.60 L283.98,957.60 L290.62,957.60 L297.27,957.60 L303.91,957.60 L310.55,957.60 L317.19,957.60 L323.83,957.60 L330.47,957.60 L337.11,957.60 L343.75,957.60 L350.39,957.60 L357.04,957.60 L363.68,957.60 L370.32,957.60 L376.96,957.60 L383.60,957.60 L390.24,957.60 L396.88,957.60 L403.52,957.60 L410.16,957.60 L416.80,957.60 L423.45,957.60 L430.09,957.60 L436.73,957.60 L443.37,957.60 L450.01,957.60 L456.65,957.60 L463.29,957.60 L469.93,957.60 L476.57,957.60 L483.21,957.60 L489.86,957.56 L496.50,957.52 L503.14,957.49 L509.78,957.41 L516.42,957.33 L523.06,957.24 L529.70,957.14 L536.34,957.05 L542.98,956.95 L549.62,956.74 L556.26,956.53 L562.91,956.32 L569.55,955.97 L576.19,955.63 L582.83,955.29 L589.47,954.94 L596.11,954.60 L602.75,953.74 L609.39,952.42 L616.03,951.10 L622.68,948.86 L629.32,946.62 L635.96,943.69 L642.60,940.25 L649.24,935.49 L655.88,930.72 L662.52,923.19 L669.16,915.78 L675.80,905.83 L682.44,895.89 L689.09,880.45 L695.73,870.60 L702.37,854.13 L709.01,841.39 L715.65,829.14 L722.29,811.10 L728.93,792.24 L735.57,775.60 L742.21,759.11 L748.85,738.70 L755.50,720.64 L762.14,700.93 L768.78,680.87 L775.42,652.29 L782.06,623.71 L788.70,605.80" fill="none" stroke="#000" stroke-width="3.2" stroke-linejoin="round"/>
<path d="M157.81,957.60v-3.8M191.01,957.60v-3.8M224.22,957.60v-3.8M257.42,957.60v-7.2M290.62,957.60v-3.8M323.83,957.60v-3.8M357.04,957.60v-3.8M390.24,957.60v-7.2M423.45,957.60v-3.8M456.65,957.60v-3.8M489.86,957.60v-3.8M523.06,957.60v-7.2M556.26,957.60v-3.8M589.47,957.60v-3.8M622.68,957.60v-3.8M655.88,957.60v-7.2M689.09,957.60v-3.8M722.29,957.60v-3.8M755.50,957.60v-3.8" stroke="#000" stroke-width="1.2" fill="none"/>
<path d="M398.32,955.08L403.52,944.68L408.72,955.08Z" fill="#dc000c"/>
<path d="M544.42,619.32L549.62,608.92L554.82,619.32Z" fill="#dc000c"/>
<rect x="431.53" y="896.57" width="10.4" height="10.4" fill="#3f48e8"/>
<rect x="511.22" y="656.43" width="10.4" height="10.4" fill="#3f48e8"/>
<circle cx="469.93" cy="781.70" r="5.4" fill="#009a00"/>
<path d="M537.78,955.08L542.98,944.68L548.18,955.08Z" fill="#dc000c"/>
<path d="M750.29,619.32L755.50,608.92L760.70,619.32Z" fill="#dc000c"/>
<rect x="584.27" y="896.57" width="10.4" height="10.4" fill="#3f48e8"/>
<rect x="697.17" y="656.43" width="10.4" height="10.4" fill="#3f48e8"/>
<circle cx="642.60" cy="781.70" r="5.4" fill="#009a00"/>
<path d="M670.60,955.08L675.80,944.68L681.00,955.08Z" fill="#dc000c"/>
<path d="M783.50,619.32L788.70,608.92L793.90,619.32Z" fill="#dc000c"/>
<rect x="717.09" y="896.57" width="10.4" height="10.4" fill="#3f48e8"/>
<rect x="776.86" y="656.43" width="10.4" height="10.4" fill="#3f48e8"/>
<circle cx="762.14" cy="781.70" r="5.4" fill="#009a00"/>
<path d="M351.83,955.08L357.03,944.68L362.23,955.08Z" fill="#dc000c"/>
<path d="M484.66,619.32L489.86,608.92L495.06,619.32Z" fill="#dc000c"/>
<rect x="385.04" y="896.57" width="10.4" height="10.4" fill="#3f48e8"/>
<rect x="451.45" y="656.43" width="10.4" height="10.4" fill="#3f48e8"/>
<circle cx="423.45" cy="781.70" r="5.4" fill="#009a00"/>
<path d="M471.37,955.08L476.57,944.68L481.77,955.08Z" fill="#dc000c"/>
<path d="M663.96,619.32L669.16,608.92L674.36,619.32Z" fill="#dc000c"/>
<rect x="517.86" y="896.57" width="10.4" height="10.4" fill="#3f48e8"/>
<rect x="610.83" y="656.43" width="10.4" height="10.4" fill="#3f48e8"/>
<circle cx="569.55" cy="781.70" r="5.4" fill="#009a00"/>
<path d="M617.48,955.08L622.68,944.68L627.88,955.08Z" fill="#dc000c"/>
<path d="M783.50,619.32L788.70,608.92L793.90,619.32Z" fill="#dc000c"/>
<rect x="670.60" y="896.57" width="10.4" height="10.4" fill="#3f48e8"/>
<rect x="770.22" y="656.43" width="10.4" height="10.4" fill="#3f48e8"/>
<circle cx="735.57" cy="781.70" r="5.4" fill="#009a00"/>
</g>
<text x="124.60" y="995.30" font-size="30" text-anchor="middle" >0.0</text>
<text x="116.30" y="958.00" font-size="30" text-anchor="end" >0.0</text>
<text x="257.42" y="995.30" font-size="30" text-anchor="middle" >0.2</text>
<text x="116.30" y="897.04" font-size="30" text-anchor="end" >0.2</text>
<text x="390.24" y="995.30" font-size="30" text-anchor="middle" >0.4</text>
<text x="116.30" y="826.68" font-size="30" text-anchor="end" >0.4</text>
<text x="523.06" y="995.30" font-size="30" text-anchor="middle" >0.6</text>
<text x="116.30" y="756.32" font-size="30" text-anchor="end" >0.6</text>
<text x="655.88" y="995.30" font-size="30" text-anchor="middle" >0.8</text>
<text x="116.30" y="685.96" font-size="30" text-anchor="end" >0.8</text>
<text x="788.70" y="995.30" font-size="30" text-anchor="middle" >1.0</text>
<text x="116.30" y="624.20" font-size="30" text-anchor="end" >1.0</text>
<text x="457.25" y="1026.60" font-size="29" text-anchor="middle" >f</text>
<text transform="translate(56.7,788.1) rotate(-90) scale(1,1.04)" font-size="29" text-anchor="middle">Σ P(f)</text>
<rect x="140.2" y="631.8" width="254.6" height="88.7" fill="#fff" stroke="#000" stroke-width="2.7"/>
<line x1="164.9" y1="651.2" x2="291.1" y2="651.2" stroke="#009a00" stroke-width="3" stroke-dasharray="9.4 9.36"/>
<line x1="164.9" y1="676.65" x2="291.1" y2="676.65" stroke="#3040f0" stroke-width="3.1" stroke-dasharray="2.2 4.34"/>
<line x1="164.9" y1="702.5" x2="291.1" y2="702.5" stroke="#dc000c" stroke-width="3.1" stroke-dasharray="2.2 4.34"/>
<circle cx="164.9" cy="651.2" r="6.75" fill="#009a00"/>
<rect x="158.20000000000002" y="669.9499999999999" width="13.4" height="13.4" fill="#3f48e8"/>
<path d="M158.20000000000002,708.9L164.9,696.1L171.6,708.9Z" fill="#dc000c"/>
<circle cx="291.1" cy="651.2" r="6.75" fill="#009a00"/>
<rect x="284.40000000000003" y="669.9499999999999" width="13.4" height="13.4" fill="#3f48e8"/>
<path d="M284.40000000000003,708.9L291.1,696.1L297.8,708.9Z" fill="#dc000c"/>
<text x="307.60" y="657.20" font-size="25" text-anchor="start" >Median</text>
<text x="307.60" y="683.10" font-size="25" text-anchor="start" >68.2%</text>
<text x="307.60" y="708.50" font-size="25" text-anchor="start" >95.4%</text>
</svg></body></html>
